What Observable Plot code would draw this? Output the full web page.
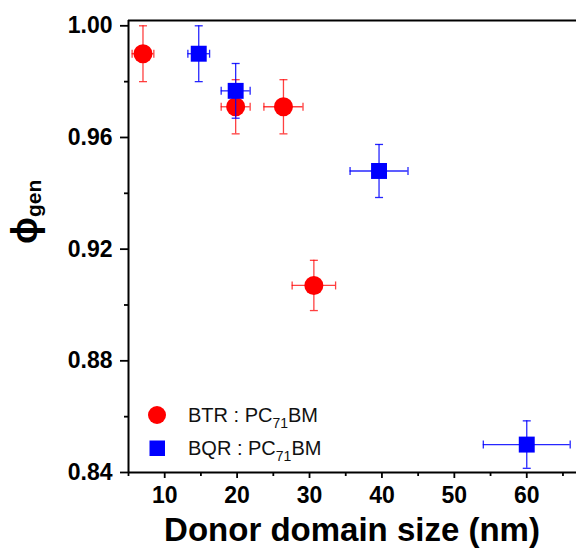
<!DOCTYPE html>
<html><head><meta charset="utf-8">
<script src="https://cdn.jsdelivr.net/npm/d3@7"></script>
<script src="https://cdn.jsdelivr.net/npm/@observablehq/plot@0.6"></script>
<style>
body{margin:0;background:#fff;}
#chart svg{display:block;background:#fff;}
#chart svg text{font-family:"Liberation Sans",Arial,sans-serif;}
</style></head><body><div id="chart"></div>
<script>
// BTR : PC71BM
const btrSize = [7, 19.8, 26.4, 30.6];
const btrPhi = [0.990, 0.971, 0.971, 0.907];
const btrSizeErr = [1.5, 2, 2.7, 3];
const btrPhiErr = [0.010, 0.0097, 0.0097, 0.009];
// BQR : PC71BM
const bqrSize = [14.7, 19.8, 39.6, 60];
const bqrPhi = [0.990, 0.9767, 0.948, 0.850];
const bqrSizeErr = [1.5, 2, 4, 6];
const bqrPhiErr = [0.010, 0.0098, 0.0095, 0.0085];
// axes
const xTicks = [10, 20, 30, 40, 50, 60];
const xMinor = [5, 15, 25, 35, 45, 55, 65];
const yTicks = [0.84, 0.88, 0.92, 0.96, 1.00];
const yMinor = [0.86, 0.90, 0.94, 0.98];
const xDomain = [5, 66.87];
const yDomain = [0.84, 1.0019];

const btr = btrSize.map((x, i) => ({x, y: btrPhi[i], xe: btrSizeErr[i], ye: btrPhiErr[i]}));
const bqr = bqrSize.map((x, i) => ({x, y: bqrPhi[i], xe: bqrSizeErr[i], ye: bqrPhiErr[i]}));

const capV = {draw(ctx) { ctx.moveTo(0, -4); ctx.lineTo(0, 4); }};
const capH = {draw(ctx) { ctx.moveTo(-4, 0); ctx.lineTo(4, 0); }};

function errorMarks(data, color, op) {
  return [
    Plot.ruleY(data, {y: "y", x1: d => d.x - d.xe, x2: d => d.x + d.xe, stroke: color, strokeWidth: 1.3, strokeOpacity: op}),
    Plot.ruleX(data, {x: "x", y1: d => d.y - d.ye, y2: d => d.y + d.ye, stroke: color, strokeWidth: 1.3, strokeOpacity: op}),
    Plot.dot(data, {x: d => d.x - d.xe, y: "y", symbol: capV, stroke: color, strokeWidth: 1.3, strokeOpacity: op, fill: "none"}),
    Plot.dot(data, {x: d => d.x + d.xe, y: "y", symbol: capV, stroke: color, strokeWidth: 1.3, strokeOpacity: op, fill: "none"}),
    Plot.dot(data, {x: "x", y: d => d.y - d.ye, symbol: capH, stroke: color, strokeWidth: 1.3, strokeOpacity: op, fill: "none"}),
    Plot.dot(data, {x: "x", y: d => d.y + d.ye, symbol: capH, stroke: color, strokeWidth: 1.3, strokeOpacity: op, fill: "none"})
  ];
}

const chart = Plot.plot({
  width: 576,
  height: 548,
  marginTop: 20,
  marginLeft: 128,
  marginRight: 0,
  marginBottom: 76,
  x: {domain: xDomain},
  y: {domain: yDomain},
  style: {fontFamily: "Liberation Sans, Arial, sans-serif", background: "#fff"},
  marks: [
    Plot.axisX({ticks: xTicks, tickSize: 6, tickPadding: 8, fontSize: 23, fontWeight: "bold", strokeWidth: 1.8, label: null, tickFormat: d => d}),
    Plot.axisX({ticks: xMinor, tickSize: 4, strokeWidth: 1.8, label: null, tickFormat: null, text: null}),
    Plot.axisY({ticks: yTicks, tickSize: 8, tickPadding: 8, fontSize: 23, fontWeight: "bold", strokeWidth: 1.8, label: null, tickFormat: d3.format(".2f")}),
    Plot.axisY({ticks: yMinor, tickSize: 4, strokeWidth: 1.8, label: null, text: null}),
    Plot.ruleX([xDomain[0]], {strokeWidth: 2}),
    Plot.ruleY([yDomain[0]], {strokeWidth: 2}),
    Plot.ruleY([yDomain[1]], {strokeWidth: 2}),
    ...errorMarks(btr, "#ff0000", 0.75),
    Plot.dot(btr, {x: "x", y: "y", r: 9.5, fill: "#ff0000", stroke: "none"}),
    ...errorMarks(bqr, "#0000ff", 0.85),
    Plot.dot(bqr, {x: "x", y: "y", r: 9, symbol: "square", fill: "#0000ff", stroke: "none"})
  ]
});
document.getElementById("chart").appendChild(chart);

const svg = d3.select(chart);
// x axis title
svg.append("text").attr("x", 352).attr("y", 541).attr("text-anchor", "middle")
  .attr("font-size", 33).attr("font-weight", "bold").attr("fill", "#000")
  .text("Donor domain size (nm)");
// y axis title: ϕ_gen
const yl = svg.append("text").attr("transform", "translate(37,244) rotate(-90)")
  .attr("text-anchor", "start").attr("font-weight", "bold").attr("fill", "#000");
yl.append("tspan").attr("font-size", 36).text("ϕ");
yl.append("tspan").attr("font-size", 21).attr("dy", 4).text("gen");

// legend
const legend = [
  {label: "BTR", color: "#ff0000", shape: "circle", y: 415},
  {label: "BQR", color: "#0000ff", shape: "square", y: 448}
];
legend.forEach(l => {
  if (l.shape === "circle") {
    svg.append("circle").attr("cx", 157).attr("cy", l.y).attr("r", 9).attr("fill", l.color);
  } else {
    svg.append("rect").attr("x", 149.5).attr("y", l.y - 7.5).attr("width", 15.5).attr("height", 15.5).attr("fill", l.color);
  }
  const t = svg.append("text").attr("x", 188).attr("y", l.y + 7).attr("text-anchor", "start")
    .attr("font-size", 20).attr("fill", "#111");
  t.append("tspan").text(l.label + " : PC");
  t.append("tspan").attr("font-size", 14).attr("dy", 6).text("71");
  t.append("tspan").attr("dy", -6).text("BM");
});
</script></body></html>
